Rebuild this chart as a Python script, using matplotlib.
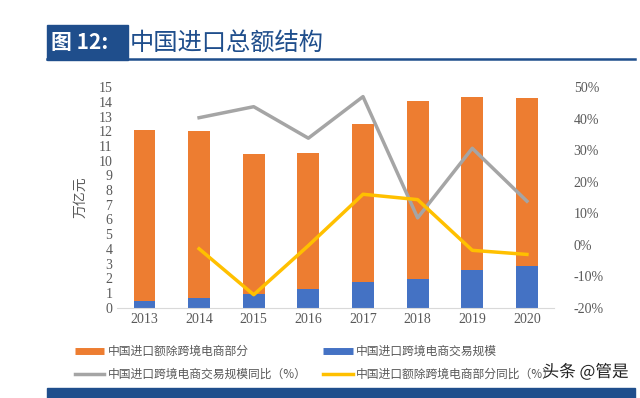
import numpy as np
import matplotlib.pyplot as plt
import matplotlib.patheffects as pe
from matplotlib.lines import Line2D
from matplotlib.patches import Rectangle

plt.rcParams['font.family'] = ['Noto Sans CJK SC', 'DejaVu Sans']

# data
years = ['2013', '2014', '2015', '2016', '2017', '2018', '2019', '2020']
total_import = [12.1, 12.03, 10.46, 10.5, 12.48, 14.09, 14.3, 14.25]   # 万亿元
cbec_import = [0.48, 0.66, 0.93, 1.27, 1.77, 1.93, 2.54, 2.84]         # 万亿元
cbec_yoy = [np.nan, 40.3, 43.8, 33.8, 47.0, 8.5, 30.6, 13.8]           # %
other_yoy = [np.nan, -1.3, -15.9, -0.3, 16.0, 14.3, -1.8, -3.1]        # %

other_import = [t - c for t, c in zip(total_import, cbec_import)]

c_orange = '#ED7D31'
c_blue = '#4472C4'
c_gray = '#A5A5A5'
c_yellow = '#FFC000'
c_navy = '#1F4E8C'
c_text = '#595959'

fig = plt.figure(figsize=(6.4, 3.98), dpi=100)
ax = fig.add_axes([0.183, 0.227, 0.683, 0.554])
x = np.arange(len(years))

ax.bar(x, cbec_import, width=0.4, color=c_blue, zorder=2)
ax.bar(x, other_import, width=0.4, bottom=cbec_import, color=c_orange, zorder=2)
ax.set_xlim(-0.5, 7.5)
ax.set_ylim(0, 15)
ax.set_yticks(range(0, 16))
ax.set_xticks(x)
ax.set_xticklabels(years)
for s in ['top', 'right', 'left']:
    ax.spines[s].set_visible(False)
ax.spines['bottom'].set_color('#D9D9D9')
ax.tick_params(length=0, colors=c_text)
for lab in ax.get_xticklabels() + ax.get_yticklabels():
    lab.set_family('Liberation Serif')
    lab.set_fontsize(10)
ax.set_ylabel('万亿元', color=c_text, fontsize=10, labelpad=8)

ax2 = ax.twinx()
ax2.plot(x, cbec_yoy, color=c_gray, lw=2.5, zorder=3)
ax2.plot(x, other_yoy, color=c_yellow, lw=2.5, zorder=3)
ax2.set_ylim(-20, 50)
ax2.set_yticks(range(-20, 51, 10))
ax2.set_yticklabels([f'{v}%' for v in range(-20, 51, 10)])
for s in ax2.spines.values():
    s.set_visible(False)
ax2.tick_params(length=0, colors=c_text, pad=14)
for lab in ax2.get_yticklabels():
    lab.set_family('Liberation Serif')
    lab.set_fontsize(10)

# legend
handles = [
    Line2D([], [], color=c_orange, lw=5, solid_capstyle='butt'),
    Line2D([], [], color=c_gray, lw=2.5),
    Line2D([], [], color=c_blue, lw=5, solid_capstyle='butt'),
    Line2D([], [], color=c_yellow, lw=2.5),
]
labels = ['中国进口额除跨境电商部分', '中国进口跨境电商交易规模同比（%）',
          '中国进口跨境电商交易规模', '中国进口额除跨境电商部分同比（%）']
leg = fig.legend(handles, labels, ncol=2, loc='upper left', bbox_to_anchor=(0.1, 0.16),
                 frameon=False, fontsize=8.5, handlelength=2.5, handletextpad=0.3,
                 columnspacing=1.4, labelspacing=0.85)
for t in leg.get_texts():
    t.set_color(c_text)

# title bar
fig.patches.append(Rectangle((0.073, 0.85), 0.127, 0.087, transform=fig.transFigure,
                             color=c_navy, zorder=1))
fig.text(0.08, 0.893, '图 12:', color='white', fontsize=15, fontweight='bold',
         va='center', ha='left')
fig.text(0.203, 0.893, '中国进口总额结构', color=c_navy, fontsize=17.5, va='center', ha='left')
fig.add_artist(Line2D([0.073, 0.992], [0.851, 0.851], transform=fig.transFigure,
                      color=c_navy, lw=1.8))
fig.patches.append(Rectangle((0.073, 0.0), 0.919, 0.024, transform=fig.transFigure,
                             color=c_navy, zorder=1))

# watermark
wm = fig.text(0.982, 0.065, '头条 @管是', color='#222222', fontsize=12, ha='right', va='center',
              zorder=5)
wm.set_path_effects([pe.withStroke(linewidth=3, foreground='white')])

fig.savefig('out.png', dpi=100)
